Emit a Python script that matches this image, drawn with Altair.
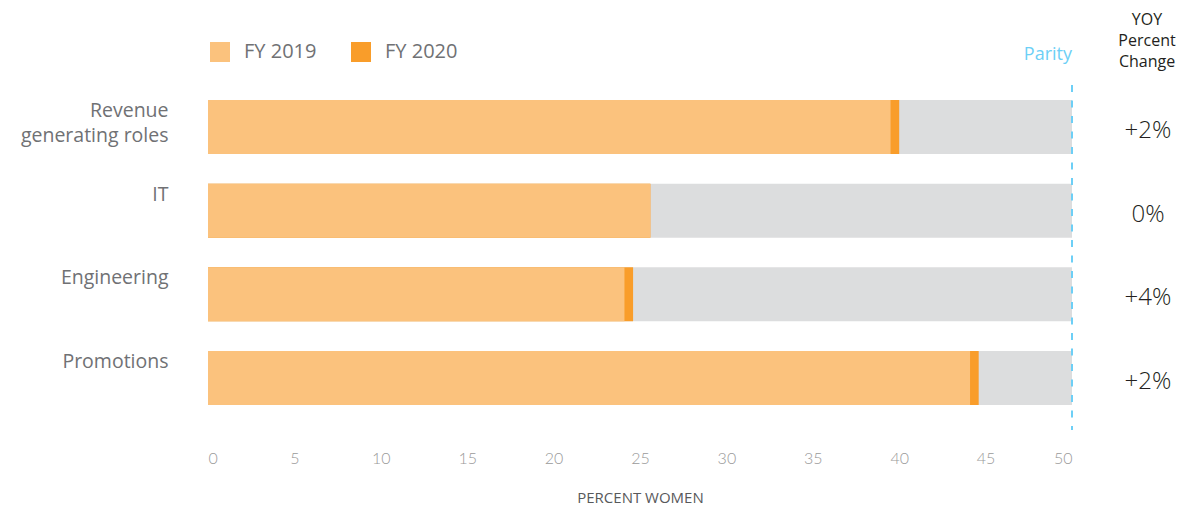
import altair as alt
import pandas as pd

categories = ["Revenue|generating roles", "IT", "Engineering", "Promotions"]
fy2019 = [39.5, 25.6, 24.1, 44.1]
fy2020 = [40.0, 25.6, 24.6, 44.6]
yoy = ["+2%", "0%", "+4%", "+2%"]
parity = 50
x_ticks = [0, 5, 10, 15, 20, 25, 30, 35, 40, 45, 50]
series = ["FY 2019", "FY 2020"]

FONT = "Open Sans"
TICKFONT = "Lato"
W, H = 864, 335

rows = []
for c, v in zip(categories, fy2020):
    rows.append({"cat": c, "series": "FY 2020", "value": v})
for c, v in zip(categories, fy2019):
    rows.append({"cat": c, "series": "FY 2019", "value": v})
bars_df = pd.DataFrame(rows)
bg_df = pd.DataFrame({"cat": categories, "value": [parity] * len(categories)})
yoy_df = pd.DataFrame({"cat": categories, "yoy": yoy})

yscale = alt.Scale(domain=categories, paddingInner=0.355, paddingOuter=0.179)
xscale = alt.Scale(domain=[0, 50], nice=False)

y_enc = alt.Y(
    "cat:N",
    scale=yscale,
    sort=categories,
    axis=alt.Axis(
        title=None, domain=False, ticks=False, tickSize=0,
        labelExpr="split(datum.label, '|')",
        labelFont=FONT, labelFontSize=19.5, labelFontWeight="normal", labelColor="#707174",
        labelBaseline="alphabetic", labelOffset=-10, labelLineHeight=25,
        labelPadding=40, labelAlign="right", labelLimit=300,
    ),
)

bg = alt.Chart(bg_df).mark_bar(color="#dcddde").encode(
    x=alt.X("value:Q", scale=xscale,
            axis=alt.Axis(
                title="PERCENT WOMEN", values=x_ticks, domain=False, ticks=False,
                tickSize=0, grid=False, labelFont=TICKFONT, labelFontSize=16,
                labelFontWeight=300, labelColor="#9a9a9a", labelPadding=30,
                titleFont=FONT, titleFontSize=15, titleFontWeight="normal",
                titleColor="#58595b", titlePadding=24)),
    x2=alt.datum(0),
    y=y_enc,
)

bars = alt.Chart(bars_df).mark_bar().encode(
    x=alt.X("value:Q", scale=xscale, stack=None),
    x2=alt.datum(0),
    y=alt.Y("cat:N", scale=yscale, sort=categories),
    color=alt.Color(
        "series:N",
        scale=alt.Scale(domain=series, range=["#fbc27d", "#f99d2a"]),
        legend=alt.Legend(
            title=None, orient="none", legendX=2, legendY=-43,
            direction="horizontal", symbolType="square", symbolSize=400,
            symbolStrokeWidth=0, labelFont=FONT, labelFontSize=20,
            labelFontWeight="normal", labelColor="#707174", labelOffset=14,
            columnPadding=34, padding=0,
        ),
    ),
)

rule = alt.Chart(pd.DataFrame({"p": [parity]})).mark_rule(
    color="#6dcff6", strokeWidth=2, strokeDash=[7, 8.5]
).encode(x=alt.X("p:Q", scale=xscale), y=alt.value(0), y2=alt.value(H + 10))

parity_txt = alt.Chart(pd.DataFrame({"t": ["Parity"]})).mark_text(
    font=FONT, fontSize=18, fontWeight="normal", color="#6dcff6", align="right",
    baseline="alphabetic"
).encode(text="t:N", x=alt.value(W), y=alt.value(-25))

yoy_head = alt.Chart(pd.DataFrame({"t": [["YOY", "Percent", "Change"]]})).mark_text(
    font=FONT, fontSize=16, fontWeight=500, color="#231f20", align="center",
    baseline="alphabetic", lineHeight=21
).encode(text="t", x=alt.value(939), y=alt.value(-60))

yoy_txt = alt.Chart(yoy_df).mark_text(
    font=FONT, fontSize=24, fontWeight=300, color="#231f20", align="center",
    baseline="alphabetic", dy=11
).encode(text="yoy:N", x=alt.value(940), y=alt.Y("cat:N", scale=yscale, sort=categories))

chart = alt.layer(bg, bars, rule, parity_txt, yoy_head, yoy_txt).properties(
    width=W, height=H,
    autosize=alt.AutoSizeParams(type="none"),
    padding={"left": 200, "top": 77, "right": 109, "bottom": 87},
).configure_view(stroke=None)

chart.save("out.html", embed_options={"renderer": "svg", "actions": False})
